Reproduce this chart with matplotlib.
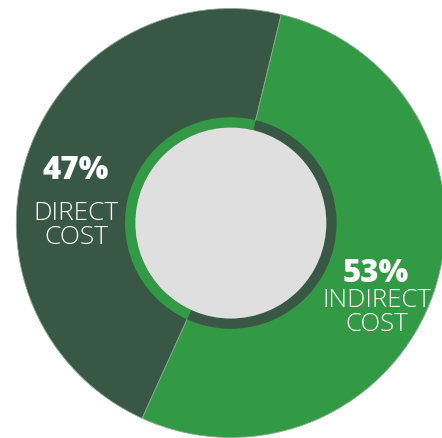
import matplotlib
matplotlib.use("Agg")
import matplotlib.pyplot as plt

# Data
categories = ["DIRECT\nCOST", "INDIRECT\nCOST"]
values = [47, 53]
pct_labels = ["47%", "53%"]
outer_colors = ["#395745", "#329a44"]
inner_colors = ["#329a44", "#395745"]
center_color = "#dfdfdf"

W, H = 442, 438
fig = plt.figure(figsize=(W / 100, H / 100), dpi=100)
ax = fig.add_axes([0, 0, 1, 1])

cx, cy = 230.8, H - 223.0
R_out = 214.5
R_ring = 105.8
R_gray = 95.5
start = 76.4

ax.pie(values, colors=outer_colors, radius=R_out, center=(cx, cy),
       startangle=start, counterclock=True,
       wedgeprops=dict(linewidth=0.6, edgecolor="#8aa892"))
ax.pie(values, colors=inner_colors, radius=R_ring, center=(cx, cy),
       startangle=start, counterclock=True,
       wedgeprops=dict(width=R_ring - R_gray, linewidth=0))
ax.add_patch(plt.Circle((cx, cy), R_gray, color=center_color, lw=0))

ax.set_xlim(0, W)
ax.set_ylim(0, H)
ax.set_aspect("auto")
ax.axis("off")

fam = ["Open Sans", "DejaVu Sans"]
# left labels
ax.text(76, H - 179, pct_labels[0], ha="center", va="baseline", color="white",
        fontsize=22.5, fontweight="heavy", family=fam)
lines0 = categories[0].split("\n")
ax.text(76, H - 220, lines0[0], ha="center", va="baseline", color="white",
        fontsize=19, fontweight="light", family=fam)
ax.text(76, H - 244, lines0[1], ha="center", va="baseline", color="white",
        fontsize=19, fontweight="light", family=fam)
# right labels
ax.text(376, H - 282, pct_labels[1], ha="center", va="baseline", color="white",
        fontsize=22.5, fontweight="heavy", family=fam)
lines1 = categories[1].split("\n")
ax.text(376.5, H - 307, lines1[0], ha="center", va="baseline", color="white",
        fontsize=18.5, fontweight="light", family=fam)
ax.text(377, H - 331, lines1[1], ha="center", va="baseline", color="white",
        fontsize=18.5, fontweight="light", family=fam)

fig.savefig("out.png", dpi=100, facecolor="white")
